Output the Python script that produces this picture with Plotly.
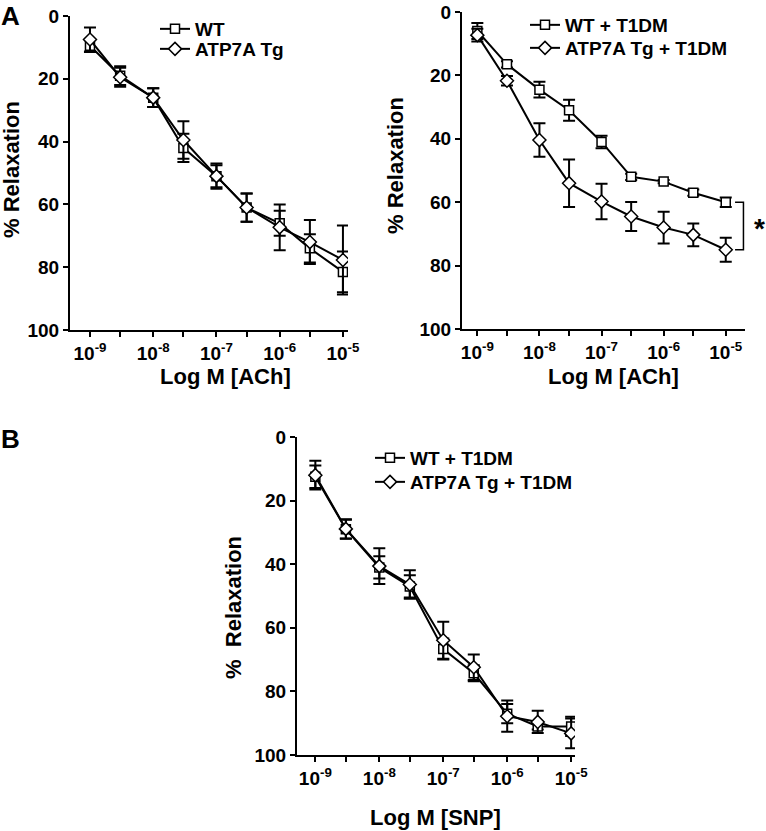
import plotly.graph_objects as go

# Concentrations (M) and axis tick labels
conc = [1e-9, 3e-9, 1e-8, 3e-8, 1e-7, 3e-7, 1e-6, 3e-6, 1e-5]
tick_text = ["10<sup>-9</sup>", "", "10<sup>-8</sup>", "", "10<sup>-7</sup>", "",
             "10<sup>-6</sup>", "", "10<sup>-5</sup>"]
y_ticks = [0, 20, 40, 60, 80, 100]

# A, left: ACh, non-diabetic
ach_wt = [9.5, 19, 26, 42, 51, 61, 66, 74, 81.5]
ach_wt_err = [2, 3, 3, 4.5, 3.5, 4.5, 4, 4.5, 6.5]
ach_tg = [7.5, 19.5, 26, 39.5, 51, 61, 67.3, 72, 77.7]
ach_tg_err = [3.8, 3, 3, 6, 4, 4.5, 7.3, 7, 11]

# A, right: ACh, T1DM
ach_wt_dm = [6, 16.5, 24.5, 31, 41, 52, 53.5, 57, 60]
ach_wt_dm_err = [2.5, 1, 2.5, 3.3, 2, 1, 0.5, 1, 1.5]
ach_tg_dm = [7.3, 21.7, 40.4, 54, 59.8, 64.5, 68, 70.3, 75]
ach_tg_dm_err = [2, 1.5, 5.3, 7.5, 5.6, 4.6, 5, 3.6, 3.8]

# B: SNP, T1DM
snp_wt_dm = [12.5, 29, 41, 47, 66.7, 74.3, 87, 91, 91]
snp_wt_dm_err = [3.5, 3, 3.5, 3.5, 3.3, 2.5, 3, 1, 3]
snp_tg_dm = [12, 28.9, 40.6, 46.4, 63.9, 72.4, 87.8, 89.6, 93.2]
snp_tg_dm_err = [4.5, 3, 5.6, 4.5, 5.8, 4, 4.9, 3.5, 4.7]

W, H = 766, 831
FONT = "Liberation Sans, Arial, sans-serif"


def px(x):
    return x / W


def py(y):
    return 1 - y / H


def series(x, y, err, name, symbol, size, xa, ya, legend):
    return go.Scatter(
        x=x, y=y, name=name, mode="lines+markers",
        xaxis=xa, yaxis=ya, legend=legend,
        line=dict(color="black", width=2),
        marker=dict(symbol=symbol, size=size, color="white",
                    line=dict(color="black", width=1.5)),
        error_y=dict(type="data", array=err, color="black", thickness=2, width=6),
    )


fig = go.Figure()
fig.add_trace(series(conc, ach_wt, ach_wt_err, "WT", "square", 9, "x", "y", "legend"))
fig.add_trace(series(conc, ach_tg, ach_tg_err, "ATP7A Tg", "diamond", 10, "x", "y", "legend2"))
fig.add_trace(series(conc, ach_wt_dm, ach_wt_dm_err, "WT + T1DM", "square", 9, "x2", "y2", "legend3"))
fig.add_trace(series(conc, ach_tg_dm, ach_tg_dm_err, "ATP7A Tg + T1DM", "diamond", 10, "x2", "y2", "legend4"))
fig.add_trace(series(conc, snp_wt_dm, snp_wt_dm_err, "WT + T1DM", "square", 9, "x3", "y3", "legend5"))
fig.add_trace(series(conc, snp_tg_dm, snp_tg_dm_err, "ATP7A Tg + T1DM", "diamond", 10, "x3", "y3", "legend6"))

# significance bracket between the last points of the T1DM curves
bx0, bx1 = conc[-1] * 10 ** 0.15, conc[-1] * 10 ** 0.285
fig.add_trace(go.Scatter(
    x=[bx0, bx1, bx1, bx0], y=[ach_wt_dm[-1], ach_wt_dm[-1], ach_tg_dm[-1], ach_tg_dm[-1]],
    mode="lines", line=dict(color="black", width=1.5), xaxis="x2", yaxis="y2",
    showlegend=False, hoverinfo="skip"))

tick_font = dict(family=FONT, size=19, color="black", weight="bold")


def xax(dom, rng, anchor):
    return dict(domain=dom, range=rng, type="log", anchor=anchor,
                tickmode="array", tickvals=conc, ticktext=tick_text,
                showline=True, linewidth=2, linecolor="black",
                ticks="outside", ticklen=5, tickwidth=2, tickcolor="black",
                showgrid=False, zeroline=False, tickfont=tick_font)


def yax(dom, anchor):
    return dict(domain=dom, range=[100, 0], anchor=anchor,
                tickmode="array", tickvals=y_ticks,
                showline=True, linewidth=2, linecolor="black",
                ticks="outside", ticklen=5, tickwidth=2, tickcolor="black",
                showgrid=False, zeroline=False, tickfont=tick_font)


leg_font = dict(family=FONT, size=19, color="black", weight="bold")


def leg(x, y):
    return dict(x=px(x), y=py(y), xanchor="left", yanchor="middle",
                bgcolor="rgba(0,0,0,0)", font=leg_font, itemwidth=30)


title_font = dict(family=FONT, size=22, color="black", weight="bold")
label_font = dict(family=FONT, size=26, color="black", weight="bold")


def txt(text, x, y, font, angle=0, xanchor="center"):
    return dict(text=text, x=px(x), y=py(y), xref="paper", yref="paper",
                showarrow=False, textangle=angle, font=font, borderpad=0,
                xanchor=xanchor, yanchor="middle")


annotations = [
    txt("% Relaxation", 12, 170, title_font, -90),
    txt("% Relaxation", 395, 166, title_font, -90),
    txt("%\u00a0\u00a0Relaxation", 233, 608, title_font, -90),
    txt("Log M [ACh]", 225, 377, title_font),
    txt("Log M [ACh]", 613, 377, title_font),
    txt("Log M [SNP]", 436, 817, title_font),
    txt("A", 0, 16, label_font, xanchor="left"),
    txt("B", 0, 439, label_font, xanchor="left"),
    txt("*", 766, 228, dict(family=FONT, size=28, color="black", weight="bold"), xanchor="right"),
]

fig.update_layout(
    width=W, height=H,
    margin=dict(l=0, r=0, t=0, b=0, autoexpand=False),
    plot_bgcolor="white", paper_bgcolor="white",
    xaxis=xax([px(70), px(348)], [-9.316, -4.92], "y"),
    yaxis=yax([py(330), py(16)], "x"),
    xaxis2=xax([px(462), px(745)], [-9.247, -4.69], "y2"),
    yaxis2=yax([py(329), py(12)], "x2"),
    xaxis3=xax([px(297), px(575)], [-9.287, -4.94], "y3"),
    yaxis3=yax([py(755), py(437)], "x3"),
    legend=leg(155, 29),
    legend2=leg(155, 49),
    legend3=leg(525, 25),
    legend4=leg(525, 48),
    legend5=leg(370, 458),
    legend6=leg(370, 482),
    annotations=annotations,
)

# drop the browser's default page margin so the figure sits at the window corner
fig.write_html("out.html", config={"displayModeBar": False},
               post_script="document.body.style.margin = '0';")
